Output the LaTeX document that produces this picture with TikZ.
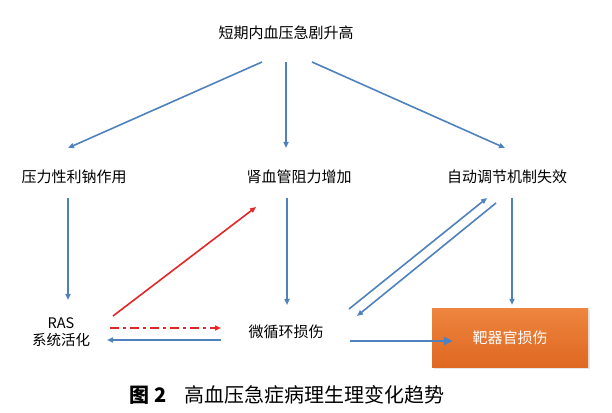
\documentclass[tikz,border=0pt]{standalone}
\usepackage{fontspec}
\setmainfont{Noto Sans CJK SC}
\usepackage{tikz}
\usetikzlibrary{arrows.meta,shadows}

\definecolor{flowblue}{RGB}{79,129,189}
\definecolor{flowred}{RGB}{228,38,38}
\definecolor{boxtop}{RGB}{238,133,62}
\definecolor{boxbot}{RGB}{222,104,34}

\begin{document}
\begin{tikzpicture}[
    x=1pt, y=1pt,
    >={Triangle[length=6pt,width=5pt]},
    every node/.style={font=\fontsize{15}{18}\selectfont, inner sep=2pt},
    flow/.style={->, draw=flowblue, line width=1.6pt},
    hurt/.style={->, draw=flowred, line width=1.6pt}
]

\useasboundingbox (0,0) rectangle (612,412);

% top
\node (top) at (286,379) {短期内血压急剧升高};

% second row
\node (natri) at (74,235) {压力性利钠作用};
\node (renal) at (299,235) {肾血管阻力增加};
\node (autoreg) at (507,235) {自动调节机制失效};

% third row
\node[align=center, font=\fontsize{14.5}{17.5}\selectfont] (ras) at (61,80) {RAS\\系统活化};
\node (micro) at (286,80) {微循环损伤};
\node[minimum width=156pt, minimum height=58pt, top color=boxtop,
      bottom color=boxbot, text=white,
      drop shadow={opacity=0.2, shadow xshift=1.5pt, shadow yshift=-1.5pt}]
     (organ) at (510,74) {靶器官损伤};

% caption
\node[font=\fontsize{20}{24}\selectfont] (cap) at (287,17)
     {\textbf{图 2}\hspace{0.9em}高血压急症病理生理变化趋势};

% from the top
\draw[flow] ([shift={(-24,-29)}]top.center) -- ([shift={(-6,29)}]natri.center);
\draw[flow] ([shift={(0,-29)}]top.center) -- ([shift={(-13,29)}]renal.center);
\draw[flow] ([shift={(26,-29)}]top.center) -- ([shift={(-2,29)}]autoreg.center);

% downwards
\draw[flow] ([shift={(-6,-21)}]natri.center) -- ([shift={(7,32)}]ras.center);
\draw[flow] ([shift={(-12,-21)}]renal.center) -- ([shift={(1,27)}]micro.center);
\draw[flow] ([shift={(5,-21)}]autoreg.center) -- ([shift={(2,4)}]organ.north);

% RAS loop
\draw[hurt] ([shift={(52,16)}]ras.center) -- ([shift={(-43,-30)}]renal.center);
\draw[hurt, line width=2.4pt, dash pattern=on 9pt off 4pt on 3pt off 4pt]
    ([shift={(49,4)}]ras.center) -- ([shift={(-65,4)}]micro.center);
\draw[flow] ([shift={(-65,-8)}]micro.center) -- ([shift={(46,-8)}]ras.center);

% autoregulation loop
\draw[flow] ([shift={(63,23)}]micro.center) -- ([shift={(-20,-21)}]autoreg.center);
\draw[flow] ([shift={(-11,-26)}]autoreg.center) -- ([shift={(71,16)}]micro.center);

% to the organs
\draw[flow, line width=2.8pt, >={Triangle[length=9pt,width=8pt]}]
    ([shift={(64,-9)}]micro.center) -- ([shift={(21,-3)}]organ.west);

\end{tikzpicture}
\end{document}
